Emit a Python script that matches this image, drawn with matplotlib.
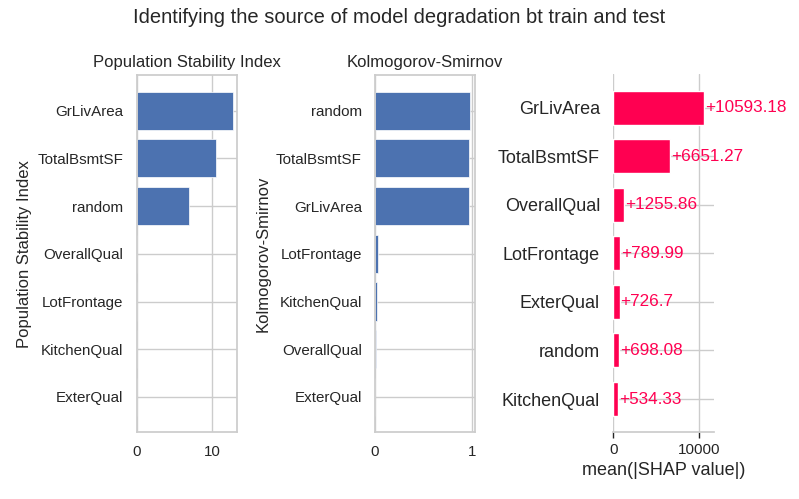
import numpy as np
import matplotlib
matplotlib.use("Agg")
import matplotlib.pyplot as plt
import seaborn as sns

sns.set_theme(style="whitegrid")
plt.rcParams["font.family"] = ["Liberation Sans", "DejaVu Sans"]

# Population Stability Index
psi_features = ["GrLivArea", "TotalBsmtSF", "random", "OverallQual",
                "LotFrontage", "KitchenQual", "ExterQual"]
psi_values = [12.65, 10.49, 6.88, 0.0, 0.0, 0.0, 0.0]

# Kolmogorov-Smirnov
ks_features = ["random", "TotalBsmtSF", "GrLivArea", "LotFrontage",
               "KitchenQual", "OverallQual", "ExterQual"]
ks_values = [0.982, 0.970, 0.970, 0.036, 0.026, 0.006, 0.005]

# SHAP importance
shap_features = ["GrLivArea", "TotalBsmtSF", "OverallQual", "LotFrontage",
                 "ExterQual", "random", "KitchenQual"]
shap_values = [10593.18, 6651.27, 1255.86, 789.99, 726.7, 698.08, 534.33]

blue = "#4c72b0"
red = "#ff0051"

fig = plt.figure(figsize=(7.99, 4.99), dpi=100)
ax1 = fig.add_axes([0.1711, 0.1337, 0.1259, 0.7154])
ax2 = fig.add_axes([0.4693, 0.1337, 0.1252, 0.7154])
ax3 = fig.add_axes([0.7676, 0.1337, 0.1260, 0.7174])

for ax, feats, vals, name in [(ax1, psi_features, psi_values, "Population Stability Index"),
                              (ax2, ks_features, ks_values, "Kolmogorov-Smirnov")]:
    y = np.arange(len(feats))
    ax.barh(y, vals, height=0.8, color=blue, edgecolor="white", linewidth=0.5)
    ax.set_yticks(y)
    ax.set_yticklabels(feats, fontsize=10.9)
    ax.invert_yaxis()
    ax.tick_params(axis="x", labelsize=10.9)
    ax.set_title(name, fontsize=12)
    ax.set_ylabel(name, fontsize=12)
    ax.set_axisbelow(True)

ax1.set_xticks([0, 10])
ax2.set_xticks([0, 1])

# shap style bar chart
y_pos = np.arange(len(shap_features), 0, -1)
ax3.barh(y_pos, shap_values, 0.7, color=red, align="center")
ax3.set_yticks(y_pos)
ax3.set_yticklabels(shap_features, fontsize=13)
ax3.set_axisbelow(True)
xmax = max(shap_values)
for yy, v in zip(y_pos, shap_values):
    label = ("%+0.02f" % v).rstrip("0").rstrip(".")
    ax3.text(v + xmax * 0.01, yy, label, ha="left", va="center",
             color=red, fontsize=12.3)
ax3.set_xlim(0, 11750)
ax3.set_xticks([0, 10000])
ax3.spines["right"].set_visible(False)
ax3.spines["top"].set_visible(False)
ax3.spines["left"].set_visible(False)
ax3.xaxis.set_ticks_position("bottom")
ax3.tick_params(axis="x", bottom=True, length=4, width=1, color="#262626",
                labelsize=11)
ax3.set_xlabel("mean(|SHAP value|)", fontsize=13)

fig.suptitle("Identifying the source of model degradation bt train and test",
             fontsize=14.5, y=0.965, va="center")

fig.savefig("out.png", dpi=100)
